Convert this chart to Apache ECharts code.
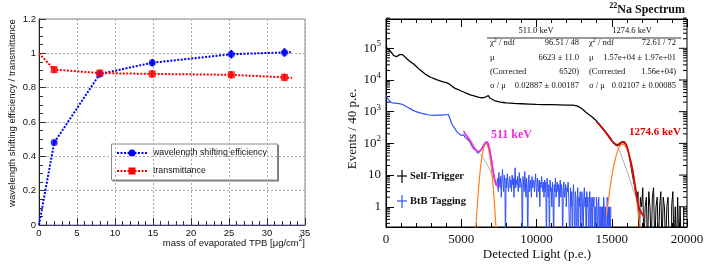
<!DOCTYPE html>
<html><head><meta charset="utf-8">
<script src="https://cdn.jsdelivr.net/npm/echarts@6/dist/echarts.min.js"></script>
<style>html,body{margin:0;padding:0;background:#fff}#c{width:708px;height:266px}</style>
</head><body><div id="c"></div>
<script>
// ---------------- Left panel data ----------------
const tpbMass   = [2.0, 8.0, 14.9, 25.3, 32.3];
const wlsEff    = [0.48, 0.88, 0.945, 0.995, 1.005];
const wlsErr    = [0.012, 0.02, 0.022, 0.025, 0.025];
const transm    = [0.905, 0.885, 0.880, 0.875, 0.860];
const transErr  = [0.02, 0.02, 0.022, 0.022, 0.022];
const wlsStart  = [0, 0.0];
const wlsEnd    = [33.3, 1.007];
const trStart   = [0, 1.0];
const trEnd     = [33.3, 0.857];

// ---------------- Right panel data ----------------
const selfTrigger = [
 [0,110000],[100,100000],[200,90000],[300,80000],[400,70000],[500,60000],[600,55000],[700,54000],
 [800,58000],[900,63000],[1000,65000],[1100,63000],[1200,58000],[1400,46000],[1600,38000],[1800,33000],
 [2000,27000],[2200,22000],[2400,18500],[2600,15500],[2800,13500],[3000,12000],[3200,11000],[3400,10000],
 [3600,9300],[3800,8700],[4000,8200],[4200,7500],[4400,6300],[4600,5400],[4800,5000],[5000,4500],
 [5200,4100],[5400,3700],[5600,3400],[5800,3200],[6000,3000],[6200,2850],[6400,2750],[6600,2900],
 [6700,3300],[6800,3200],[6900,2700],[7000,2450],[7200,2250],[7400,2100],[7600,2000],[7800,1950],
 [8000,1900],[8500,1820],[9000,1780],[9500,1740],[10000,1700],[10500,1680],[11000,1660],[11500,1640],
 [12000,1620],[12400,1600],[12700,1520],[12900,1350],[13100,1150],[13300,950],[13500,800],[13700,680],
 [13900,560],[14100,440],[14300,340],[14500,260],[14700,200],[14900,150],[15000,125],[15100,105],
 [15200,92],[15300,85],[15400,96],[15500,90],[15600,104],[15700,112],[15800,108],[15900,100],
 [16000,80],[16100,55],[16200,32],[16300,17],[16400,9],[16500,5],[16600,2.5],[16700,1.5]
];
const selfTrigTailStart = 16780, selfTrigTailStep = 80;
const selfTrigTail = [3,0,2,1,4,0,1,2,0,3,1,0,2,4,0,1,2,0,1,3,0,2,1,0,1,2,0,0,1,3,0,1,0,2,0,1,0,0,1];

const btbTagging = [
 [0,3300],[60,2900],[100,2700],[160,2500],[200,2300],[260,2050],[300,2000],[360,1950],[400,1900],
 [460,1800],[500,1850],[560,1780],[600,1800],[660,1850],[700,1820],[760,1880],[800,1850],[860,1800],
 [900,1830],[960,1760],[1000,1800],[1060,1720],[1100,1700],[1200,1600],[1300,1480],[1400,1400],
 [1500,1330],[1600,1250],[1700,1150],[1800,1100],[1900,1060],[2000,1000],[2100,960],[2200,930],
 [2300,900],[2400,880],[2500,860],[2600,840],[2700,820],[2800,800],[2900,790],[3000,780],[3100,770],
 [3200,770],[3300,760],[3400,775],[3500,770],[3600,780],[3700,785],[3800,790],[3900,800],[4000,800],
 [4140,810],[4250,600],[4350,430],[4420,380],[4500,330],[4560,300],[4600,280],[4660,250],[4700,235],
 [4760,240],[4800,220],[4860,200],[4900,195],[4960,205],[5000,180],[5060,170],[5100,165],[5160,185],
 [5200,175],[5260,155],[5300,150],[5360,160],[5400,135],[5460,125],[5500,120],[5560,115],[5600,108],
 [5660,90],[5700,95],[5760,80],[5800,80],[5860,65],[5900,70],[5960,58],[6000,62],[6060,50],[6100,56],
 [6160,52],[6200,54],[6260,58],[6300,60],[6360,68],[6400,72],[6460,80],[6500,88],[6560,98],[6600,102],
 [6670,112],[6720,100],[6780,92],[6840,75],[6890,62],[6950,40],[7000,30],[7060,18],[7110,13],[7170,9],
 [7230,7],[7290,5],[7335,4.8]
];
const btbTailStart = 7400, btbTailStep = 40;
const btbTail = [
 5,8,3,12,6,4,9,2,7,15,5,3,10,6,0,8,4,11,6,3, 6,9,4,7,3,10,5,8,2,6,17,4,7,5,9,3,6,12,4,8,
 7,4,0,9,5,3,13,6,2,8,4,0,6,10,3,5,7,2,9,4, 5,7,3,6,11,4,2,8,5,3,7,1,6,4,9,5,3,6,2,7,
 3,6,0,8,4,2,5,0,7,3,4,1,6,2,0,5,3,8,2,4, 6,3,5,1,4,7,2,5,3,0,4,6,2,3,5,1,4,3,6,2,
 2,0,4,1,3,0,2,5,1,0,3,2,0,1,4,0,2,1,3,0, 2,3,1,0,2,4,1,2,0,3,1,2,0,1,3,0,2,1,0,2,
 1,2,0,1,0,2,1,0,1,2,0,1,0,1,0, 1,0,2,1,0,1,1,0,2,0,1,0,1,0,1
];

const fit511Total = [[5150,240],[5400,160],[5600,115],[5800,78],[6000,60],[6150,55],[6300,62],[6450,80],
 [6600,104],[6700,112],[6800,95],[6900,60],[7000,33],[7100,16],[7200,8.5],[7300,5.5],[7450,4.2]];
const fit511Gaus = [[5950,0.15],[6050,0.85],[6150,3.7],[6250,12.5],[6350,32],[6450,60],[6550,89],[6640,100],
 [6730,89],[6830,60],[6930,32],[7030,12.5],[7130,3.7],[7230,0.85],[7330,0.15]];
const fit511Bkg = [[5150,260],[5600,130],[6030,61],[6600,27],[7240,6.2],[7450,4.3]];

const fit1274Total = [[14000,480],[14300,330],[14600,220],[14900,140],[15130,105],[15350,92],[15500,98],
 [15650,108],[15790,112],[15900,100],[16010,79],[16150,45],[16350,18],[16570,4.3],[16790,1.0],[17000,0.6],[17200,0.48]];
const fit1274Gaus = [[14650,0.5],[14800,1.95],[14950,6.3],[15100,16.4],[15250,34],[15400,59],[15550,83],[15720,95],
 [15900,82],[16050,58],[16200,33],[16350,15.6],[16500,5.8],[16650,1.8],[16800,0.45],[16900,0.2]];
const fit1274Bkg = [[14000,470],[14500,250],[15000,120],[15435,69],[15800,25],[16213,7],[16600,2],[16877,1],[17150,0.45]];

const logMinorTicks = [0.3,0.4,0.5,0.6,0.7,0.8,0.9];
for (let d = 0; d <= 5; d++) for (let m = 2; m <= 9; m++) logMinorTicks.push(m * Math.pow(10, d));

// ---------------- helpers ----------------
const ZERO = 0.05; // empty bins drawn below the axis floor
function tail(start, step, vals) { return vals.map((v, i) => [start + i * step, v > 0 ? v : ZERO]); }
const selfTrigTailData = [selfTrigger[selfTrigger.length - 1]].concat(tail(selfTrigTailStart, selfTrigTailStep, selfTrigTail));
const btbTailData = [btbTagging[btbTagging.length - 1]].concat(tail(btbTailStart, btbTailStep, btbTail));

const SANS = 'Liberation Sans';
const SERIF = 'Liberation Serif';

function errBar(color) {
  return function (params, api) {
    const x = api.value(0), y = api.value(1), e = api.value(2);
    const a = api.coord([x, y - e]), b = api.coord([x, y + e]);
    return { type: 'line', shape: { x1: a[0], y1: a[1], x2: b[0], y2: b[1] }, style: { stroke: color, lineWidth: 2 } };
  };
}
const BLUE2 = '#2f50f8';

const chart = echarts.init(document.getElementById('c'), null, { renderer: 'canvas' });
const option = {
  animation: false,
  grid: [
    { left: 39, top: 19, width: 266, height: 206, show: true, borderColor: '#8a8a8a', borderWidth: 1 },
    { left: 386, top: 19, width: 301, height: 208, show: true, borderColor: '#000', borderWidth: 1 }
  ],
  xAxis: [
    { gridIndex: 0, type: 'value', min: 0, max: 35, interval: 5,
      axisLine: { onZero: false, lineStyle: { color: '#3a3a8a', width: 1 } },
      axisTick: { inside: true, length: 7, lineStyle: { color: '#333' } },
      minorTick: { show: true, splitNumber: 5, length: 4, lineStyle: { color: '#333' } },
      splitLine: { show: true, lineStyle: { type: [2, 2], color: '#a8a8a8' } },
      axisLabel: { fontFamily: SANS, fontSize: 9.5, color: '#111', margin: 3 } },
    { gridIndex: 1, type: 'value', min: 0, max: 20000, interval: 5000,
      axisLine: { onZero: false, lineStyle: { color: '#000' } },
      axisTick: { inside: true, length: 8, lineStyle: { color: '#000' } },
      minorTick: { show: true, splitNumber: 5, length: 4, lineStyle: { color: '#000' } },
      splitLine: { show: false },
      axisLabel: { fontFamily: SERIF, fontSize: 13, color: '#111', margin: 6, formatter: v => String(v) } },
    { gridIndex: 1, type: 'value', position: 'top', min: 0, max: 20000, interval: 5000,
      axisLine: { onZero: false, lineStyle: { color: '#000' } },
      axisTick: { inside: true, length: 8, lineStyle: { color: '#000' } },
      minorTick: { show: true, splitNumber: 5, length: 4, lineStyle: { color: '#000' } },
      splitLine: { show: false }, axisLabel: { show: false } }
  ],
  yAxis: [
    { gridIndex: 0, type: 'value', min: 0, max: 1.2, interval: 0.2,
      axisLine: { onZero: false, lineStyle: { color: '#222' } },
      axisTick: { inside: true, length: 7, lineStyle: { color: '#333' } },
      minorTick: { show: true, splitNumber: 4, length: 4, lineStyle: { color: '#333' } },
      splitLine: { show: true, lineStyle: { type: [2, 2], color: '#a8a8a8' } },
      axisLabel: { fontFamily: SANS, fontSize: 9.5, color: '#111', margin: 3 } },
    { gridIndex: 1, type: 'log', logBase: 10, min: 0.23, max: 840000,
      axisLine: { onZero: false, lineStyle: { color: '#000' } },
      axisTick: { inside: true, length: 8, lineStyle: { color: '#000' } },
      splitLine: { show: false },
      axisLabel: { fontFamily: SERIF, fontSize: 13, color: '#111', margin: 5, showMinLabel: false, showMaxLabel: false,
        lineHeight: 18,
        formatter: function (v) {
          const l = Math.log10(v), e = Math.round(l);
          if (Math.abs(l - e) > 0.01) return '';
          if (e === 0) return '1';
          if (e === 1) return '10';
          return '10{s|' + e + '}';
        },
        rich: { s: { fontFamily: SERIF, fontSize: 9, lineHeight: 9, verticalAlign: 'top', color: '#111' } } } }
  ],
  series: [
    // left panel
    { type: 'line', xAxisIndex: 0, yAxisIndex: 0, showSymbol: false, symbol: 'none',
      lineStyle: { color: '#0000ff', width: 2, type: [2, 1.5] },
      data: [wlsStart].concat(tpbMass.map((x, i) => [x, wlsEff[i]])).concat([wlsEnd]), z: 3 },
    { type: 'line', xAxisIndex: 0, yAxisIndex: 0, showSymbol: false, symbol: 'none',
      lineStyle: { color: '#ff0000', width: 2, type: [2, 1.5] },
      data: [trStart].concat(tpbMass.map((x, i) => [x, transm[i]])).concat([trEnd]), z: 3 },
    { type: 'custom', xAxisIndex: 0, yAxisIndex: 0, renderItem: errBar('#0000ff'),
      data: tpbMass.map((x, i) => [x, wlsEff[i], wlsErr[i]]), z: 4 },
    { type: 'custom', xAxisIndex: 0, yAxisIndex: 0, renderItem: errBar('#ff0000'),
      data: tpbMass.map((x, i) => [x, transm[i], transErr[i]]), z: 4 },
    { type: 'scatter', xAxisIndex: 0, yAxisIndex: 0, symbol: 'circle', symbolSize: 7,
      itemStyle: { color: '#0000ff' }, data: tpbMass.map((x, i) => [x, wlsEff[i]]), z: 5 },
    { type: 'scatter', xAxisIndex: 0, yAxisIndex: 0, symbol: 'rect', symbolSize: 7,
      itemStyle: { color: '#ff0000' }, data: tpbMass.map((x, i) => [x, transm[i]]), z: 5 },
    // right panel
    { type: 'line', xAxisIndex: 1, yAxisIndex: 1, symbol: 'none', clip: true,
      lineStyle: { color: '#000', width: 1.3 }, data: selfTrigger, z: 3 },
    { type: 'line', xAxisIndex: 1, yAxisIndex: 1, symbol: 'none', clip: true, step: 'middle',
      lineStyle: { color: '#000', width: 1 }, data: selfTrigTailData, z: 3 },
    { type: 'line', xAxisIndex: 1, yAxisIndex: 1, symbol: 'none', clip: true,
      lineStyle: { color: BLUE2, width: 1.2 }, data: btbTagging, z: 4 },
    { type: 'line', xAxisIndex: 1, yAxisIndex: 1, symbol: 'none', clip: true, step: 'middle',
      lineStyle: { color: BLUE2, width: 1 }, data: btbTailData, z: 4 },
    { type: 'line', xAxisIndex: 1, yAxisIndex: 1, symbol: 'none', clip: true, smooth: true,
      lineStyle: { color: '#9a9a9a', width: 0.8 }, data: fit511Bkg, z: 5 },
    { type: 'line', xAxisIndex: 1, yAxisIndex: 1, symbol: 'none', clip: true, smooth: true,
      lineStyle: { color: '#9a9a9a', width: 0.8 }, data: fit1274Bkg, z: 5 },
    { type: 'line', xAxisIndex: 1, yAxisIndex: 1, symbol: 'none', clip: true, smooth: true,
      lineStyle: { color: '#ff7f1e', width: 1.2 }, data: fit511Gaus, z: 6 },
    { type: 'line', xAxisIndex: 1, yAxisIndex: 1, symbol: 'none', clip: true, smooth: true,
      lineStyle: { color: '#ff7f1e', width: 1.2 }, data: fit1274Gaus, z: 6 },
    { type: 'line', xAxisIndex: 1, yAxisIndex: 1, symbol: 'none', clip: true, smooth: true,
      lineStyle: { color: '#ee2be0', width: 1.6 }, data: fit511Total, z: 7 },
    { type: 'line', xAxisIndex: 1, yAxisIndex: 1, symbol: 'none', clip: true, smooth: true,
      lineStyle: { color: '#e00000', width: 1.6 }, data: fit1274Total, z: 7 },
    // log minor ticks on both sides of the right frame
    { type: 'custom', xAxisIndex: 1, yAxisIndex: 1, clip: false, silent: true,
      data: logMinorTicks.map(v => [v]),
      renderItem: function (params, api) {
        const v = api.value(0);
        const a = api.coord([0, v]), b = api.coord([20000, v]);
        return { type: 'group', children: [
          { type: 'line', shape: { x1: a[0], y1: a[1], x2: a[0] + 4, y2: a[1] }, style: { stroke: '#000', lineWidth: 1 } },
          { type: 'line', shape: { x1: b[0], y1: b[1], x2: b[0] - 4, y2: b[1] }, style: { stroke: '#000', lineWidth: 1 } }
        ] };
      } },
    { type: 'custom', xAxisIndex: 1, yAxisIndex: 1, clip: false, silent: true,
      data: [1, 10, 100, 1000, 10000, 100000].map(v => [v]),
      renderItem: function (params, api) {
        const b = api.coord([20000, api.value(0)]);
        return { type: 'line', shape: { x1: b[0], y1: b[1], x2: b[0] - 8, y2: b[1] }, style: { stroke: '#000', lineWidth: 1 } };
      } }
  ],
  graphic: [
    // left panel texts
    { type: 'text', x: 12, y: 113, rotation: Math.PI / 2, style: { text: 'wavelength shifting efficiency / transmittance',
      font: '9.5px ' + SANS, fill: '#111', align: 'center', verticalAlign: 'middle' } },
    { type: 'text', x: 305, y: 243, style: { text: 'mass of evaporated TPB [μg/cm{s|2}]', font: '9.5px ' + SANS, fill: '#111',
      align: 'right', verticalAlign: 'middle', lineHeight: 14,
      rich: { s: { font: '6.5px ' + SANS, lineHeight: 7, verticalAlign: 'top', fill: '#111' } } } },
    // left legend
    { type: 'rect', shape: { x: 112.5, y: 145, width: 166.5, height: 36.5 }, style: { fill: '#777' } },
    { type: 'rect', shape: { x: 111.5, y: 144, width: 166, height: 36 }, style: { fill: '#fff', stroke: '#8a8a8a', lineWidth: 1 } },
    { type: 'line', shape: { x1: 117, y1: 153, x2: 147, y2: 153 }, style: { stroke: '#0000ff', lineWidth: 2, lineDash: [2, 1.5] } },
    { type: 'circle', shape: { cx: 132, cy: 153, r: 3.5 }, style: { fill: '#0000ff' } },
    { type: 'text', x: 153, y: 153, style: { text: 'wavelength shifting efficiency', font: '8.8px ' + SANS, fill: '#111', verticalAlign: 'middle' } },
    { type: 'line', shape: { x1: 117, y1: 171, x2: 147, y2: 171 }, style: { stroke: '#ff0000', lineWidth: 2, lineDash: [2, 1.5] } },
    { type: 'rect', shape: { x: 128.5, y: 167.5, width: 7, height: 7 }, style: { fill: '#ff0000' } },
    { type: 'text', x: 153, y: 171, style: { text: 'transmittance', font: '8.8px ' + SANS, fill: '#111', verticalAlign: 'middle' } },
    // right panel texts
    { type: 'text', x: 353, y: 129, rotation: Math.PI / 2, style: { text: 'Events / 40 p.e.', font: '13px ' + SERIF, fill: '#111',
      align: 'center', verticalAlign: 'middle' } },
    { type: 'text', x: 537, y: 255, style: { text: 'Detected Light (p.e.)', font: '13px ' + SERIF, fill: '#111', align: 'center', verticalAlign: 'middle' } },
    { type: 'text', x: 685, y: 10, style: { text: '{s|22}Na Spectrum', font: 'bold 12px ' + SERIF, fill: '#111', align: 'right',
      verticalAlign: 'middle', lineHeight: 16, rich: { s: { font: 'bold 8px ' + SERIF, lineHeight: 8, verticalAlign: 'top', fill: '#111' } } } },
    // stats table
    { type: 'line', shape: { x1: 487, y1: 38, x2: 681, y2: 38 }, style: { stroke: '#000', lineWidth: 0.8 } },
    { type: 'text', x: 536, y: 31, style: { text: '511.0 keV', font: '8.5px ' + SERIF, fill: '#111', align: 'center', verticalAlign: 'middle' } },
    { type: 'text', x: 632, y: 31, style: { text: '1274.6 keV', font: '8.5px ' + SERIF, fill: '#111', align: 'center', verticalAlign: 'middle' } },
    { type: 'text', x: 490, y: 43, style: { text: 'χ{s|2} / ndf', font: '8.5px ' + SERIF, fill: '#111', verticalAlign: 'middle', lineHeight: 12,
      rich: { s: { font: '6px ' + SERIF, lineHeight: 6, verticalAlign: 'top' } } } },
    { type: 'text', x: 579, y: 43, style: { text: '96.51 / 48', font: '8.5px ' + SERIF, fill: '#111', align: 'right', verticalAlign: 'middle' } },
    { type: 'text', x: 490, y: 57.5, style: { text: 'μ', font: '8.5px ' + SERIF, fill: '#111', verticalAlign: 'middle' } },
    { type: 'text', x: 579, y: 57.5, style: { text: '6623 ± 11.0', font: '8.5px ' + SERIF, fill: '#111', align: 'right', verticalAlign: 'middle' } },
    { type: 'text', x: 490, y: 71.5, style: { text: '(Corrected', font: '8.5px ' + SERIF, fill: '#111', verticalAlign: 'middle' } },
    { type: 'text', x: 579, y: 71.5, style: { text: '6520)', font: '8.5px ' + SERIF, fill: '#111', align: 'right', verticalAlign: 'middle' } },
    { type: 'text', x: 490, y: 85.5, style: { text: 'σ / μ', font: '8.5px ' + SERIF, fill: '#111', verticalAlign: 'middle' } },
    { type: 'text', x: 579, y: 85.5, style: { text: '0.02887 ± 0.00187', font: '8.5px ' + SERIF, fill: '#111', align: 'right', verticalAlign: 'middle' } },
    { type: 'text', x: 589, y: 43, style: { text: 'χ{s|2} / ndf', font: '8.5px ' + SERIF, fill: '#111', verticalAlign: 'middle', lineHeight: 12,
      rich: { s: { font: '6px ' + SERIF, lineHeight: 6, verticalAlign: 'top' } } } },
    { type: 'text', x: 676, y: 43, style: { text: '72.61 / 72', font: '8.5px ' + SERIF, fill: '#111', align: 'right', verticalAlign: 'middle' } },
    { type: 'text', x: 589, y: 57.5, style: { text: 'μ', font: '8.5px ' + SERIF, fill: '#111', verticalAlign: 'middle' } },
    { type: 'text', x: 676, y: 57.5, style: { text: '1.57e+04 ± 1.97e+01', font: '8.5px ' + SERIF, fill: '#111', align: 'right', verticalAlign: 'middle' } },
    { type: 'text', x: 589, y: 71.5, style: { text: '(Corrected', font: '8.5px ' + SERIF, fill: '#111', verticalAlign: 'middle' } },
    { type: 'text', x: 676, y: 71.5, style: { text: '1.56e+04)', font: '8.5px ' + SERIF, fill: '#111', align: 'right', verticalAlign: 'middle' } },
    { type: 'text', x: 589, y: 85.5, style: { text: 'σ / μ', font: '8.5px ' + SERIF, fill: '#111', verticalAlign: 'middle' } },
    { type: 'text', x: 676, y: 85.5, style: { text: '0.02107 ± 0.00085', font: '8.5px ' + SERIF, fill: '#111', align: 'right', verticalAlign: 'middle' } },
    // peak labels
    { type: 'text', x: 491, y: 135, style: { text: '511 keV', font: 'bold 12px ' + SERIF, fill: '#ee2be0', verticalAlign: 'middle' } },
    { type: 'text', x: 629, y: 132, style: { text: '1274.6 keV', font: 'bold 11px ' + SERIF, fill: '#e00000', verticalAlign: 'middle' } },
    // right legend
    { type: 'line', shape: { x1: 397, y1: 176, x2: 407, y2: 176 }, style: { stroke: '#000', lineWidth: 1.2 } },
    { type: 'line', shape: { x1: 402, y1: 170, x2: 402, y2: 183 }, style: { stroke: '#000', lineWidth: 1.2 } },
    { type: 'text', x: 410, y: 176.5, style: { text: 'Self-Trigger', font: 'bold 10.5px ' + SERIF, fill: '#111', verticalAlign: 'middle' } },
    { type: 'line', shape: { x1: 397, y1: 201, x2: 407, y2: 201 }, style: { stroke: BLUE2, lineWidth: 1.2 } },
    { type: 'line', shape: { x1: 402, y1: 195, x2: 402, y2: 208 }, style: { stroke: BLUE2, lineWidth: 1.2 } },
    { type: 'text', x: 410, y: 201.5, style: { text: 'BtB Tagging', font: 'bold 10.5px ' + SERIF, fill: '#111', verticalAlign: 'middle' } }
  ]
};
chart.setOption(option);
</script>
</body></html>
